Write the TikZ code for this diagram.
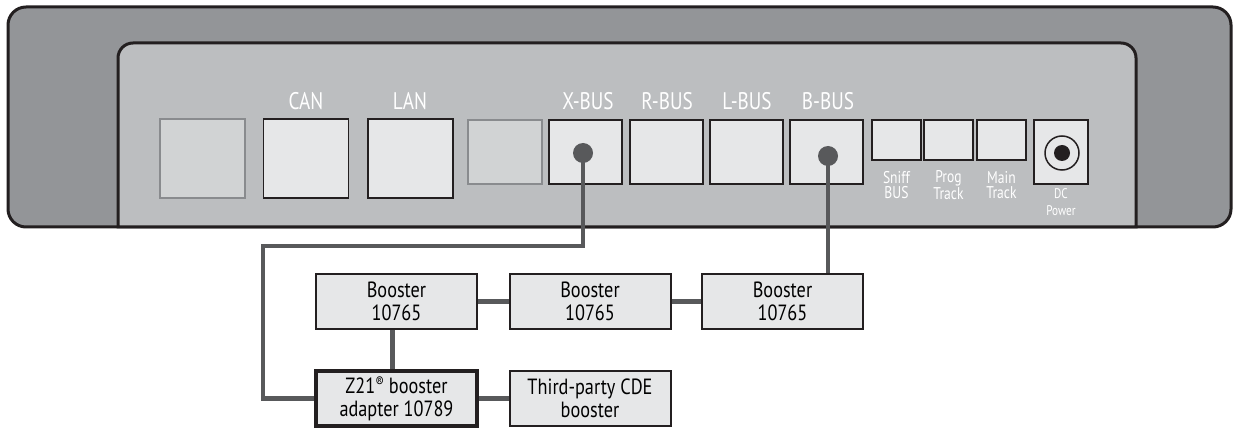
\documentclass[tikz,border=0pt]{standalone}
\usepackage{fontspec}
\setmainfont{PT Sans}
\newfontfamily\lblfont[FakeStretch=0.8]{PT Sans}
\newfontfamily\devfont[FakeStretch=0.83]{PT Sans}
\definecolor{edge}{HTML}{231F20}
\definecolor{outerc}{HTML}{939598}
\definecolor{innerc}{HTML}{BCBEC0}
\definecolor{portc}{HTML}{E6E7E8}
\definecolor{ghostc}{HTML}{D1D3D4}
\definecolor{ghostedge}{HTML}{898B8E}
\definecolor{cablec}{HTML}{58595B}
\tikzset{
  port/.style={draw=edge, fill=portc, line width=1.6, inner sep=0, minimum width=73, minimum height=64},
  ghost/.style={draw=ghostedge, fill=ghostc, line width=1.6, inner sep=0},
  bigport/.style={minimum width=85, minimum height=79},
  smallport/.style={port, minimum width=49, minimum height=40},
  plabel/.style={text=white, font=\lblfont\fontsize{24}{24}\selectfont, inner sep=0},
  slabel/.style={text=white, font=\lblfont\fontsize{17}{15}\selectfont, align=center, inner sep=0},
  tlabel/.style={text=white, font=\lblfont\fontsize{14}{17}\selectfont, align=center, inner sep=0},
  dev/.style={draw=edge, fill=portc, line width=2, minimum width=161, minimum height=55, inner sep=0, align=center, font=\devfont\fontsize{22}{23}\selectfont},
  devthick/.style={dev, line width=3.5},
  plug/.style={circle, fill=cablec, inner sep=0, minimum size=20},
  cable/.style={draw=cablec, line width=4.5, line join=miter}
}
\begin{document}
\begin{tikzpicture}[x=1pt,y=-1pt]
\useasboundingbox (0,0) rectangle (1233,430);
% housing
\draw[line width=3, draw=edge, fill=outerc, rounded corners=18] (8,7) rectangle (1231,227);
\draw[line width=3, draw=edge, fill=innerc] (118,227) -- (118,58) arc[start angle=180, end angle=270, radius=15] -- (1121,43) arc[start angle=270, end angle=360, radius=15] -- (1136,227) -- cycle;
% ports
\node[ghost, bigport] (p1) at (202.5,158.5) {};
\node[port, bigport] (can) at (306,158.5) {};
\node[port, bigport] (lan) at (410.5,158.5) {};
\node[ghost, minimum width=74, minimum height=64] (p4) at (505,152) {};
\node[port] (xbus) at (585.5,152) {};
\node[port] (rbus) at (666.5,152) {};
\node[port] (lbus) at (746.5,152) {};
\node[port] (bbus) at (826.5,152) {};
\node[smallport] (sniff) at (896.5,140) {};
\node[smallport] (prog) at (948.5,140) {};
\node[smallport] (mainp) at (1001.5,140) {};
\node[port, minimum width=54] (dc) at (1061,152) {};
\node[circle, draw=edge, line width=1.5, minimum size=34, inner sep=0] (jack) at (1062,153) {};
\node[circle, fill=edge, minimum size=16, inner sep=0] (jackpin) at (1062,153) {};
% labels
\node[plabel] (lcan) at (306,101.5) {CAN};
\node[plabel] (llan) at (410,101.5) {LAN};
\node[plabel] (lx) at (588,101.5) {X-BUS};
\node[plabel] (lr) at (667,101.5) {R-BUS};
\node[plabel] (ll) at (747,101.5) {L-BUS};
\node[plabel] (lb) at (828,101.5) {B-BUS};
\node[slabel] (lsniff) at (896.5,185) {Sniff\\BUS};
\node[slabel] (lprog) at (948.5,185) {Prog\\Track};
\node[slabel] (lmain) at (1001.5,185) {Main\\Track};
\node[tlabel] (ldc) at (1061,202.5) {DC\\Power};
% devices
\node[dev] (b1) at (396.5,301.5) {Booster\\10765};
\node[dev] (b2) at (590,301.5) {Booster\\10765};
\node[dev] (b3) at (782.5,301.5) {Booster\\10765};
\node[devthick] (ad) at (396.5,398.5) {Z21\raisebox{0.55ex}{\fontsize{15}{15}\selectfont ®} booster\\adapter 10789};
\node[dev] (tp) at (590,398.5) {Third-party CDE\\booster};
% plugs
\node[plug] (xdot) at (583,153) {};
\node[plug] (bdot) at (828,156) {};
\coordinate (xc) at (263,246);
% cables
\draw[cable] (xdot.center) -- (xdot |- xc) -- (xc) |- (ad.west);
\draw[cable] (bdot.center) -- (bdot |- b3.north);
\draw[cable] (b1.east) -- (b2.west);
\draw[cable] (b2.east) -- (b3.west);
\draw[cable] ([xshift=-4]b1.south) -- ([xshift=-4]ad.north);
\draw[cable] (ad.east) -- (tp.west);
\end{tikzpicture}
\end{document}
